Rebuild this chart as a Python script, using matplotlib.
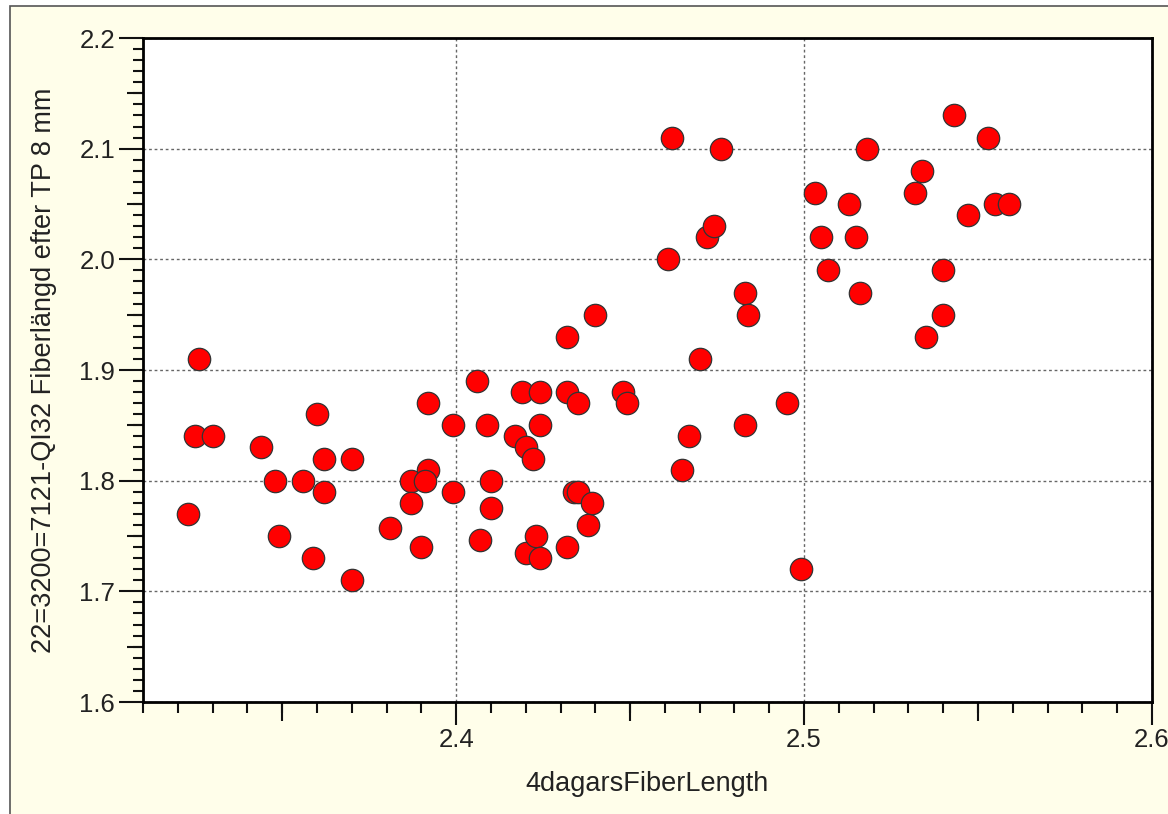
import matplotlib
matplotlib.use("Agg")
import matplotlib.pyplot as plt
from matplotlib.patches import Rectangle
from matplotlib.ticker import MultipleLocator

# fiber length (4 days) vs fiber length after TP 8 mm
fiber_len_4d = [2.323, 2.326, 2.325, 2.330, 2.344, 2.348, 2.349, 2.356, 2.360, 2.359,
                2.362, 2.362, 2.370, 2.370, 2.381, 2.387, 2.387, 2.392, 2.391, 2.392,
                2.390, 2.399, 2.399, 2.406, 2.407, 2.409, 2.410, 2.410, 2.417, 2.419,
                2.420, 2.422, 2.420, 2.423, 2.424, 2.424, 2.424, 2.432, 2.432, 2.432,
                2.434, 2.435, 2.435, 2.438, 2.439, 2.440, 2.448, 2.449, 2.461, 2.462,
                2.465, 2.467, 2.470, 2.472, 2.474, 2.476, 2.483, 2.484, 2.483, 2.495,
                2.499, 2.503, 2.505, 2.507, 2.513, 2.515, 2.516, 2.518, 2.532, 2.534,
                2.535, 2.540, 2.540, 2.543, 2.547, 2.553, 2.555, 2.559]
fiber_len_tp8 = [1.77, 1.91, 1.84, 1.84, 1.83, 1.80, 1.75, 1.80, 1.86, 1.73,
                 1.82, 1.79, 1.82, 1.71, 1.757, 1.80, 1.78, 1.81, 1.80, 1.87,
                 1.74, 1.85, 1.79, 1.89, 1.746, 1.85, 1.80, 1.775, 1.84, 1.88,
                 1.83, 1.82, 1.735, 1.75, 1.88, 1.85, 1.73, 1.93, 1.88, 1.74,
                 1.79, 1.79, 1.87, 1.76, 1.78, 1.95, 1.88, 1.87, 2.00, 2.11,
                 1.81, 1.84, 1.91, 2.02, 2.03, 2.10, 1.97, 1.95, 1.85, 1.87,
                 1.72, 2.06, 2.02, 1.99, 2.05, 2.02, 1.97, 2.10, 2.06, 2.08,
                 1.93, 1.95, 1.99, 2.13, 2.04, 2.11, 2.05, 2.05]

# medium-length ticks halfway between the labelled ones
x_mid_ticks = [2.35, 2.45, 2.55]
y_mid_ticks = [1.65, 1.75, 1.85, 1.95, 2.05, 2.15]

x_label = "4dagarsFiberLength"
y_label = "22=3200=7121-QI32 Fiberlängd efter TP 8 mm"

plt.rcParams['font.family'] = ['Liberation Sans', 'DejaVu Sans']

fig = plt.figure(figsize=(11.68, 8.14), dpi=100)
fig.patch.set_facecolor('white')
# cream panel with a thin frame (cut off on the right/bottom)
panel = Rectangle((10 / 1168, -0.01), 1.1, 1 - 6 / 814 + 0.01,
                  transform=fig.transFigure, facecolor='#fffeea',
                  edgecolor='#555555', linewidth=1.2, zorder=-10)
fig.add_artist(panel)

ax = fig.add_axes([143 / 1168, 112 / 814, 1009 / 1168, 664 / 814])
ax.set_zorder(1)
ax.set_facecolor('white')

ax.scatter(fiber_len_4d, fiber_len_tp8, s=260, c='#ff0000', edgecolors='#333333',
           linewidths=0.9, zorder=3)

ax.set_xlim(2.31, 2.6)
ax.set_ylim(1.6, 2.2)

ax.xaxis.set_major_locator(MultipleLocator(0.1))
ax.xaxis.set_minor_locator(MultipleLocator(0.01))
ax.yaxis.set_major_locator(MultipleLocator(0.1))
ax.yaxis.set_minor_locator(MultipleLocator(0.01))
ax.xaxis.set_major_formatter(lambda v, p: "%.1f" % v)
ax.yaxis.set_major_formatter(lambda v, p: "%.1f" % v)

ax.tick_params(which='both', direction='out', width=1.5, colors='#111111')
ax.tick_params(which='major', labelsize=18.5, labelcolor='#222222')
ax.tick_params(axis='x', which='major', length=16.5, pad=2)
ax.tick_params(axis='x', which='minor', length=8)
ax.tick_params(axis='y', which='major', length=17, pad=3)
ax.tick_params(axis='y', which='minor', length=7)

# medium ticks
sx = ax.secondary_xaxis('bottom')
sx.set_xticks(x_mid_ticks)
sx.tick_params(direction='out', length=14, width=1.5, colors='#111111', labelbottom=False)
sx.spines['bottom'].set_visible(False)
sy = ax.secondary_yaxis('left')
sy.set_yticks(y_mid_ticks)
sy.tick_params(direction='out', length=11.5, width=1.5, colors='#111111', labelleft=False)
sy.spines['left'].set_visible(False)

ax.grid(True, which='major', color='#666666', linestyle=(0, (2, 2)), linewidth=1.0, zorder=1)
ax.set_axisbelow(True)

for sp in ax.spines.values():
    sp.set_linewidth(2.0)
    sp.set_color('black')

ax.set_xlabel(x_label, fontsize=19.5, color='#222222', labelpad=14)
ax.set_ylabel(y_label, fontsize=19.5, color='#222222', labelpad=16)

fig.savefig("out.png", dpi=100, facecolor=fig.get_facecolor())
